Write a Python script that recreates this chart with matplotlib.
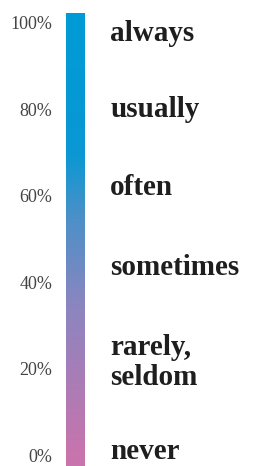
import numpy as np
import matplotlib
matplotlib.use("Agg")
import matplotlib.pyplot as plt
from matplotlib.colors import LinearSegmentedColormap

# Data
levels = [0, 20, 40, 60, 80, 100]
level_labels = ["0%", "20%", "40%", "60%", "80%", "100%"]
terms = ["never", "rarely,\nseldom", "sometimes", "often", "usually", "always"]
term_values = [0.8, 21.5, 43.5, 62, 80, 97.5]

# gradient stops (value, color)
grad_stops = [(0.0, "#c874ad"), (0.35, "#8a86c0"), (0.55, "#4c90c8"), (0.70, "#0a98d4"), (1.0, "#009bd6")]

fig = plt.figure(figsize=(2.54, 4.66), dpi=100)
ax = fig.add_axes([66/254, 0.0, 19/254, (466-13)/466])
ymin, ymax = -2.5, 102.3
ax.set_ylim(ymin, ymax)
ax.set_xlim(0, 1)

cmap = LinearSegmentedColormap.from_list("g", grad_stops)
vals = np.linspace(ymin, ymax, 400)
norm_vals = np.clip((vals - 0) / 100.0, 0, 1).reshape(-1, 1)
ax.imshow(norm_vals, cmap=cmap, vmin=0, vmax=1, aspect="auto",
          extent=(0, 1, ymin, ymax), origin="lower", interpolation="bilinear")

for s in ax.spines.values():
    s.set_visible(False)
ax.set_xticks([])
ax.set_yticks(levels)
ax.set_yticklabels(level_labels, family="Liberation Serif", fontsize=13, color="#444444")
ax.tick_params(axis="y", length=0, pad=10)

trans = ax.get_yaxis_transform()
for t, v in zip(terms, term_values):
    ax.text(2.32, v, t, transform=trans, ha="left", va="center",
            family="Liberation Serif", fontweight="bold", fontsize=21,
            color="#1e1e1e", linespacing=1.12, clip_on=False)

fig.savefig("out.png", dpi=100)
